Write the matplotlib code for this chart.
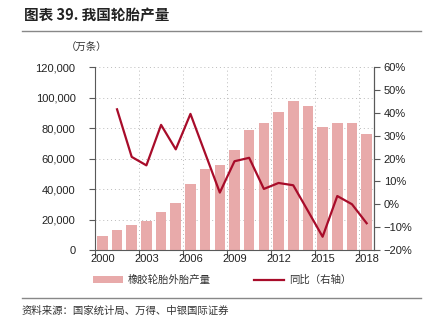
import matplotlib
matplotlib.use("Agg")
import matplotlib.pyplot as plt
from matplotlib.patches import Patch
from matplotlib.lines import Line2D
from matplotlib.ticker import FuncFormatter

plt.rcParams['font.family'] = ['Liberation Sans', 'Noto Sans CJK SC', 'DejaVu Sans']

years = list(range(2000, 2019))
production = [9400, 13300, 16200, 18800, 24900, 30800, 43100, 53100, 55500, 65600,
              78500, 83300, 90300, 97700, 94600, 80700, 83300, 83300, 75900]
yoy_years = list(range(2001, 2019))
yoy = [41.5, 20.7, 17.0, 34.7, 24.0, 39.5, 22.3, 5.1, 18.8, 20.3,
       6.7, 9.3, 8.3, -2.9, -14.2, 3.6, 0.0, -8.3]
label_years = [2000, 2003, 2006, 2009, 2012, 2015, 2018]

bar_color = '#E8AAAA'
line_color = '#A80C2A'
axis_color = '#595959'
cjk = ['Noto Sans CJK SC', 'DejaVu Sans']

W, H = 429, 331
fig = plt.figure(figsize=(W / 100, H / 100), dpi=100)
ax = fig.add_axes([95 / W, 1 - 250 / H, (374 - 95) / W, (250 - 67) / H])

xs = [y - years[0] for y in years]
ax.bar(xs, production, width=0.72, color=bar_color, zorder=2)
ax.set_xlim(-0.5, len(years) - 0.5)
ax.set_ylim(0, 120000)
ax.set_yticks(range(0, 120001, 20000))
ax.yaxis.set_major_formatter(FuncFormatter(lambda v, p: f"{int(v):,}"))

# x ticks at category boundaries, labels at category centers
bounds = [y - years[0] - 0.5 for y in label_years]
ax.set_xticks(bounds)
ax.set_xticklabels([''] * len(bounds))
ax.set_xticks([y - years[0] for y in label_years], minor=True)
ax.set_xticklabels([str(y) for y in label_years], minor=True)
ax.tick_params(axis='x', which='major', length=4, direction='out', color=axis_color)
ax.tick_params(axis='x', which='minor', length=0, pad=3, labelsize=8, labelcolor='#222222')
ax.tick_params(axis='y', length=4, direction='out', color=axis_color, labelsize=8,
               labelcolor='#222222', pad=10)

ax.grid(True, which='major', axis='both', linestyle=(0, (1, 3)), color='#BBBBBB', linewidth=0.7, zorder=0)
ax.set_axisbelow(True)

ax.spines['top'].set_visible(False)
for s in ['left', 'bottom', 'right']:
    ax.spines[s].set_color(axis_color)
    ax.spines[s].set_linewidth(0.8)

ax2 = ax.twinx()
ax2.plot([y - years[0] for y in yoy_years], yoy, color=line_color, linewidth=1.6, zorder=3)
ax2.set_ylim(-20, 60)
ax2.set_yticks(range(-20, 61, 10))
ax2.yaxis.set_major_formatter(FuncFormatter(lambda v, p: f"{int(v)}%".replace('-', '\u2212')))
ax2.tick_params(axis='y', length=4, direction='out', color=axis_color, labelsize=8,
                labelcolor='#222222', pad=3)
ax2.spines['top'].set_visible(False)
ax2.spines['right'].set_color(axis_color)
ax2.spines['right'].set_linewidth(0.8)
ax2.spines['left'].set_visible(False)
ax2.spines['bottom'].set_visible(False)

# unit label
fig.text(66 / W, 1 - 48 / H, '（万条）', fontsize=7.5, family=cjk, color='#333333', va='center', ha='left')

# title
fig.text(24 / W, 1 - 15 / H, '图表 39. 我国轮胎产量', fontsize=10.5, family=cjk, weight='bold',
         color='#222222', va='center', ha='left')

# rules
fig.add_artist(Line2D([22 / W, 421 / W], [1 - 31 / H, 1 - 31 / H], color='#888888', linewidth=1.0))
fig.add_artist(Line2D([22 / W, 421 / W], [1 - 298 / H, 1 - 298 / H], color='#888888', linewidth=1.0))

# legend
handles = [Patch(facecolor=bar_color, edgecolor='none'),
           Line2D([0], [0], color=line_color, linewidth=1.6)]
leg = fig.legend(handles, ['橡胶轮胎外胎产量', '同比（右轴）'], loc='center',
                 bbox_to_anchor=(222 / W, 1 - 280 / H), ncol=2, frameon=False,
                 prop={'family': cjk, 'size': 7.5}, handlelength=2.9, handleheight=0.6,
                 columnspacing=4.2, handletextpad=0.4)
for t in leg.get_texts():
    t.set_color('#333333')

# source
fig.text(22 / W, 1 - 311 / H, '资料来源：国家统计局、万得、中银国际证券', fontsize=7.5, family=cjk,
         color='#333333', va='center', ha='left', style='italic')

fig.savefig('out.png', dpi=100)
